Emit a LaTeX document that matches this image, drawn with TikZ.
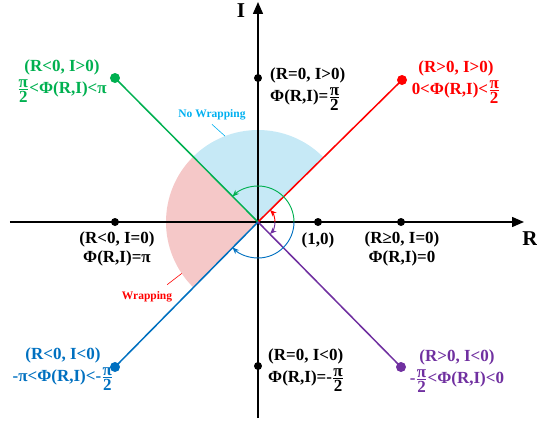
\documentclass[tikz,border=0pt]{standalone}
\usepackage{fontspec,amsmath}
\setmainfont{Liberation Serif}
\usetikzlibrary{arrows.meta}
\definecolor{qgreen}{HTML}{00B050}
\definecolor{qred}{HTML}{FF0000}
\definecolor{qblue}{HTML}{0070C0}
\definecolor{qpurple}{HTML}{7030A0}
\definecolor{qcyan}{HTML}{00B0F0}
\definecolor{lightcyan}{HTML}{C6E9F6}
\definecolor{lightpink}{HTML}{F5C8C8}
\newcommand{\hpi}{\ensuremath{\genfrac{}{}{0.9pt}{}{\hbox{\fontsize{14.5}{14.5}\selectfont π}}{\hbox{\fontsize{14.5}{14.5}\selectfont 2}}}}

\begin{document}
\begin{tikzpicture}[x=0.3mm,y=0.3mm,font=\fontsize{14.5}{16}\selectfont\bfseries,
lbl/.style={align=center,inner sep=0pt},
enddot/.style={circle,fill,inner sep=0pt,minimum size=3mm},
axdot/.style={circle,fill=black,inner sep=0pt,minimum size=2.4mm},
ray/.style={line width=1.3pt},
turn/.style={line width=0.8pt,-{Stealth[length=2mm,width=1.6mm]}},
tag/.style={font=\fontsize{9.8}{10}\selectfont\bfseries}]
\useasboundingbox (-258,-211) rectangle (279,222);
% shaded sectors
\fill[lightcyan] (0,0) -- (45:92) arc[start angle=45,end angle=135,radius=92] -- cycle;
\fill[lightpink] (0,0) -- (135:92) arc[start angle=135,end angle=225,radius=92] -- cycle;
% axes
\coordinate (O) at (0,0);
\coordinate (west) at (-248,0);
\coordinate (east) at (266,0);
\coordinate (south) at (0,-196);
\coordinate (north) at (0,220);
\draw[ray,-{Triangle[length=3.6mm,width=3mm]}] (west) -- (east);
\draw[ray,-{Triangle[length=3.6mm,width=3mm]}] (south) -- (north);
\node[font=\fontsize{18}{18}\selectfont\bfseries] (rlbl) at (272,-17) {R};
\node[font=\fontsize{18}{18}\selectfont\bfseries] (ilbl) at (-17,211) {I};
% quadrant rays
\node[enddot,qgreen] (q2) at (-143,144) {};
\node[enddot,qred] (q1) at (144,142) {};
\node[enddot,qblue] (q3) at (-143,-145) {};
\node[enddot,qpurple] (q4) at (143,-145) {};
\foreach \q/\c in {q1/qred,q2/qgreen,q3/qblue,q4/qpurple}{\draw[ray,\c] (O) -- (\q.center);}
% points on the axes
\node[axdot] (rneg) at (-143,0) {};
\node[axdot] (one) at (60,0) {};
\node[axdot] (rpos) at (143,0) {};
\node[axdot] (ipos) at (0,144) {};
\node[axdot] (ineg) at (0,-144) {};
% turning arcs
\draw[turn,qgreen] (36,0) arc[start angle=0,end angle=135,radius=36];
\draw[turn,qblue] (36,0) arc[start angle=0,end angle=-135,radius=36];
\draw[turn,qred] (17,0) arc[start angle=0,end angle=45,radius=17];
\draw[turn,qpurple] (17,0) arc[start angle=0,end angle=-45,radius=17];
% labels
\node[lbl,qgreen] (q2lbl) at (-196,141) {(R<0, I>0)\\[3pt]\hpi<Φ(R,I)<π};
\node[lbl,qred] (q1lbl) at (198,140) {(R>0, I>0)\\[3pt]0<Φ(R,I)<\hpi};
\node[lbl,qblue] (q3lbl) at (-195,-147) {(R<0, I<0)\\[3pt]-π<Φ(R,I)<-\hpi};
\node[lbl,qpurple] (q4lbl) at (199,-149) {(R>0, I<0)\\[3pt]-\hpi<Φ(R,I)<0};
\node[lbl,align=left,anchor=west] (iposlbl) at (12,133) {(R=0, I>0)\\[3pt]Φ(R,I)=\hpi};
\node[lbl,align=left,anchor=west] (ineglbl) at (10,-148) {(R=0, I<0)\\[3pt]Φ(R,I)=-\hpi};
\node[lbl] (rneglbl) at (-141,-27) {(R<0, I=0)\\Φ(R,I)=π};
\node[lbl] (rposlbl) at (144,-27) {(R≥0, I=0)\\Φ(R,I)=0};
\node (onelbl) at (60,-18) {(1,0)};
% wrapping tags
\node[tag,qcyan] (nowrap) at (-46,107) {No Wrapping};
\coordinate (nowrapend) at (111:92);
\draw[qcyan,line width=0.5pt] (nowrap.south) -- (nowrapend);
\node[tag,qred] (wrap) at (-111,-75) {Wrapping};
\coordinate (wrapend) at (214:92);
\draw[qred,line width=0.5pt] (wrap.north east) ++(-9,3) -- (wrapend);
\end{tikzpicture}
\end{document}
